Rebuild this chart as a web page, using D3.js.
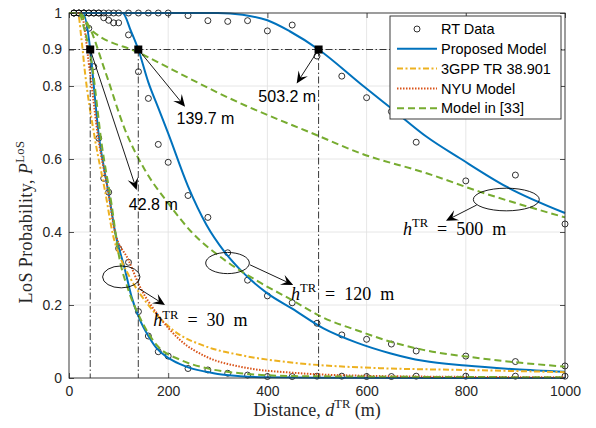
<!DOCTYPE html>
<html>
<head>
<meta charset="utf-8">
<script src="https://cdn.jsdelivr.net/npm/d3@7"></script>
<style>
	html, body { margin: 0; padding: 0; background: #fff; }
	svg { display: block; }
</style>
</head>
<body>
<svg id="chart" width="596" height="428"></svg>
<script>
// RT samples, distance in m
const rtDistance = [10, 20, 30, 40, 50, 60, 70, 80, 90, 100, 120, 140, 160, 180, 200, 240, 280, 320, 360, 400, 450, 500, 550, 600, 650, 700, 800, 900, 1000];
const rtH30 = [1, 1, 1, 0.958, 0.853, 0.657, 0.547, 0.509, null, 0.355, 0.317, 0.182, 0.115, 0.072, 0.06, 0.026, 0.022, 0.013, 0.008, 0.004, 0.004, 0.005, 0.005, 0.004, 0.004, 0.005, 0.005, 0.005, 0.005];
const rtH120 = [1, 1, 1, 1, 1, 1, 0.987, 0.98, 0.973, 0.973, 0.94, 0.839, 0.766, 0.64, 0.591, 0.5, 0.44, 0.343, 0.268, 0.225, 0.206, 0.15, 0.118, 0.106, 0.093, 0.074, 0.06, 0.045, 0.033];
const rtH500 = [1, 1, 1, 1, 1, 1, 1, 1, 1, 1, 1, 1, 1, 1, 1, 0.993, 0.979, 0.977, 0.979, 0.951, 0.967, 0.882, 0.827, 0.768, 0.73, 0.646, 0.54, 0.556, 0.422];

// model curves, [distance, probability]
const proposedH30 = [[0, 1], [28, 1], [42.8, 0.9], [50, 0.8], [60, 0.665], [70, 0.58], [80, 0.505], [93, 0.4], [113, 0.296], [126, 0.223], [143, 0.159], [160, 0.115], [177, 0.081], [200, 0.055], [224, 0.038], [250, 0.025], [277, 0.017], [300, 0.011], [345, 0.005], [400, 0.002], [500, 0.001], [1000, 0]];
const proposedH120 = [[0, 1], [108, 1], [125, 0.95], [139.7, 0.9], [160, 0.81], [180, 0.74], [200, 0.67], [240, 0.525], [277, 0.42], [314, 0.345], [350, 0.29], [400, 0.232], [450, 0.19], [513, 0.136], [580, 0.097], [647, 0.068], [714, 0.047], [800, 0.034], [900, 0.024], [1000, 0.017]];
const proposedH500 = [[0, 1], [300, 1], [350, 0.995], [400, 0.98], [445, 0.95], [503.2, 0.9], [587, 0.807], [654, 0.734], [721, 0.661], [788, 0.602], [882, 0.524], [1000, 0.452]];
const gpp = [[0, 1], [18, 1], [25, 0.93], [32, 0.84], [52, 0.657], [73, 0.51], [89, 0.39], [105, 0.325], [123, 0.275], [163, 0.195], [210, 0.131], [277, 0.086], [345, 0.063], [466, 0.04], [627, 0.027], [800, 0.022], [1000, 0.016]];
const nyu = [[0, 1], [24, 1], [42, 0.84], [59, 0.657], [79, 0.51], [92, 0.405], [120, 0.323], [143, 0.25], [177, 0.177], [224, 0.104], [277, 0.058], [345, 0.031], [466, 0.013], [600, 0.006], [800, 0.003], [1000, 0.002]];
const ref33H30 = [[0, 1], [20, 1], [30, 0.96], [46, 0.86], [66, 0.64], [86, 0.474], [100, 0.34], [120, 0.24], [143, 0.165], [177, 0.09], [224, 0.05], [277, 0.027], [345, 0.013], [466, 0.005], [1000, 0.002]];
const ref33H120 = [[0, 1], [20, 1], [39, 0.967], [73, 0.84], [113, 0.68], [153, 0.57], [200, 0.479], [247, 0.4], [314, 0.323], [382, 0.264], [449, 0.214], [513, 0.165], [580, 0.131], [647, 0.1], [714, 0.077], [829, 0.054], [1000, 0.031]];
const ref33H500 = [[0, 1], [20, 1], [40, 0.96], [143, 0.89], [345, 0.753], [500, 0.665], [587, 0.616], [721, 0.561], [829, 0.51], [1000, 0.44]];

const crossDistances = [42.8, 139.7, 503.2];
const crossLevel = 0.9;
const crossLabels = ['42.8 m', '139.7 m', '503.2 m'];
// arrow tip and label centre, in data units
const crossArrowTips = [[136.4, 0.515], [234, 0.743], [459, 0.807]];
const crossLabelPos = [[170, 0.477], [275, 0.712], [440, 0.771]];

const heightLabels = ['30', '120', '500'];
const ellipseCentres = [[105.4, 0.277], [319.6, 0.315], [881.7, 0.489]];
const ellipseRadii = [[37.7, 0.03], [44, 0.029], [66.5, 0.031]];
const heightArrowFrom = [[139.9, 0.246], [365, 0.31], [822, 0.474]];
const heightArrowTo = [[193.5, 0.2], [452, 0.255], [760, 0.431]];
const heightLabelPos = [[170, 0.142], [447.6, 0.214], [673.4, 0.392]];

const xTicks = [0, 200, 400, 600, 800, 1000];
const yTicks = [0, 0.2, 0.4, 0.6, 0.8, 0.9, 1];

const legendNames = ['RT Data', 'Proposed Model', '3GPP TR 38.901', 'NYU Model', 'Model in [33]'];

const BLUE = '#0072BD';
const ORANGE = '#EDB120';
const RED = '#D95319';
const GREEN = '#77AC30';
const AXIS = '#262626';
const DASH_GPP = '6,2.5,2,2.5';
const DASH_NYU = '1.5,1.5';
const DASH_REF = '7,4';
const SANS = '"Liberation Sans", Arial, Helvetica, sans-serif';
const SERIF = '"Liberation Serif", "Times New Roman", serif';

const $svg = d3.select('#chart');

const margin = { left: 69, right: 31, top: 13, bottom: 50 };
const width = 596;
const height = 428;

const x = d3.scaleLinear().domain([0, 1000]).range([margin.left, width - margin.right]);
const y = d3.scaleLinear().domain([0, 1]).range([height - margin.bottom, margin.top]);

const line = d3.line()
	.x(d => x(d[0]))
	.y(d => y(d[1]))
	.curve(d3.curveMonotoneX);

function drawGrid() {
	const $g = $svg.append('g').attr('class', 'grid');
	$g.selectAll('.gx')
		.data(xTicks.slice(1, -1))
		.join('line')
		.attr('x1', d => x(d)).attr('x2', d => x(d))
		.attr('y1', y(0)).attr('y2', y(1))
		.attr('stroke', '#dfdfdf').attr('stroke-width', 0.8);
	$g.selectAll('.gy')
		.data(yTicks.slice(1, -1))
		.join('line')
		.attr('x1', x(0)).attr('x2', x(1000))
		.attr('y1', d => y(d)).attr('y2', d => y(d))
		.attr('stroke', '#dfdfdf').attr('stroke-width', 0.8);
}

function styleAxis($a) {
	$a.select('.domain').remove();
	$a.selectAll('line').attr('stroke', AXIS).attr('stroke-width', 0.8);
	$a.selectAll('text').attr('fill', AXIS).style('font-family', SANS).style('font-size', '14px');
}

function drawAxes() {
	const fmt = d => String(d);
	const $b = $svg.append('g')
		.attr('transform', `translate(0,${y(0)})`)
		.call(d3.axisBottom(x).tickValues(xTicks).tickFormat(fmt).tickSizeInner(-5).tickSizeOuter(0).tickPadding(8));
	const $l = $svg.append('g')
		.attr('transform', `translate(${x(0)},0)`)
		.call(d3.axisLeft(y).tickValues(yTicks).tickFormat(fmt).tickSizeInner(-5).tickSizeOuter(0).tickPadding(7));
	const $t = $svg.append('g')
		.attr('transform', `translate(0,${y(1)})`)
		.call(d3.axisTop(x).tickValues(xTicks).tickFormat('').tickSizeInner(-5).tickSizeOuter(0));
	const $r = $svg.append('g')
		.attr('transform', `translate(${x(1000)},0)`)
		.call(d3.axisRight(y).tickValues(yTicks).tickFormat('').tickSizeInner(-5).tickSizeOuter(0));
	[$b, $l, $t, $r].forEach(styleAxis);

	$svg.append('rect')
		.attr('x', x(0)).attr('y', y(1))
		.attr('width', x(1000) - x(0)).attr('height', y(0) - y(1))
		.attr('fill', 'none').attr('stroke', AXIS).attr('stroke-width', 0.9);
}

// text with an upright superscript, e.g. d^TR
function texText($t, parts, size) {
	parts.forEach(p => {
		const $s = $t.append('tspan').text(p.text);
		if (p.italic) $s.attr('font-style', 'italic');
		if (p.sup) $s.attr('font-size', size * 0.7).attr('dy', -size * 0.42);
		if (p.after) $s.attr('dy', size * 0.42);
	});
}

function drawAxisLabels() {
	const $xl = $svg.append('text')
		.attr('x', (x(0) + x(1000)) / 2).attr('y', 416)
		.attr('text-anchor', 'middle')
		.attr('fill', AXIS)
		.style('font-family', SERIF).style('font-size', '18px');
	texText($xl, [
		{ text: 'Distance, ' },
		{ text: 'd', italic: true },
		{ text: 'TR', sup: true },
		{ text: ' (m)', after: true }
	], 18);

	const $yl = $svg.append('text')
		.attr('transform', 'translate(32,222) rotate(-90)')
		.attr('text-anchor', 'middle')
		.attr('fill', AXIS)
		.style('font-family', SERIF).style('font-size', '18px')
		.style('letter-spacing', '0.4px');
	texText($yl, [
		{ text: 'LoS Probability, ' },
		{ text: 'P', italic: true },
		{ text: 'LoS', sup: true }
	], 18);
}

function drawRT() {
	const series = [rtH30, rtH120, rtH500];
	const pts = [];
	series.forEach(s => s.forEach((p, i) => {
		if (p !== null) pts.push([rtDistance[i], p]);
	}));
	$svg.append('g').selectAll('circle')
		.data(pts)
		.join('circle')
		.attr('cx', d => x(d[0])).attr('cy', d => y(d[1]))
		.attr('r', 3)
		.attr('fill', 'none').attr('stroke', '#000').attr('stroke-width', 0.8);
}

function drawCurve(data, color, dash) {
	$svg.append('path')
		.datum(data)
		.attr('d', line)
		.attr('fill', 'none')
		.attr('stroke', color)
		.attr('stroke-width', 2)
		.attr('stroke-dasharray', dash);
}

function drawModels() {
	[proposedH30, proposedH120, proposedH500].forEach(d => drawCurve(d, BLUE, null));
	drawCurve(gpp, ORANGE, DASH_GPP);
	drawCurve(nyu, RED, DASH_NYU);
	[ref33H30, ref33H120, ref33H500].forEach(d => drawCurve(d, GREEN, DASH_REF));
}

function drawCrossings() {
	const $g = $svg.append('g');
	const dash = '7,2.5,1.5,2.5';
	$g.append('line')
		.attr('x1', x(0)).attr('x2', x(1000))
		.attr('y1', y(crossLevel)).attr('y2', y(crossLevel))
		.attr('stroke', '#222').attr('stroke-width', 0.9).attr('stroke-dasharray', dash);
	$g.selectAll('.v')
		.data(crossDistances)
		.join('line')
		.attr('x1', d => x(d)).attr('x2', d => x(d))
		.attr('y1', y(crossLevel)).attr('y2', y(0))
		.attr('stroke', '#222').attr('stroke-width', 0.9).attr('stroke-dasharray', dash);
	$g.selectAll('rect')
		.data(crossDistances)
		.join('rect')
		.attr('x', d => x(d) - 4).attr('y', y(crossLevel) - 4)
		.attr('width', 8).attr('height', 8)
		.attr('fill', '#000');
}

function arrow($g, from, to) {
	const x1 = x(from[0]), y1 = y(from[1]);
	const x2 = x(to[0]), y2 = y(to[1]);
	const len = Math.hypot(x2 - x1, y2 - y1);
	const ux = (x2 - x1) / len, uy = (y2 - y1) / len;
	const nx = -uy, ny = ux;
	const L = 12, W = 5.5;
	$g.append('line')
		.attr('x1', x1).attr('y1', y1)
		.attr('x2', x2 - ux * 6).attr('y2', y2 - uy * 6)
		.attr('stroke', '#000').attr('stroke-width', 0.9);
	const head = [
		[x2, y2],
		[x2 - ux * L + nx * W, y2 - uy * L + ny * W],
		[x2 - ux * L * 0.6, y2 - uy * L * 0.6],
		[x2 - ux * L - nx * W, y2 - uy * L - ny * W]
	];
	$g.append('path')
		.attr('d', 'M' + head.join('L') + 'Z')
		.attr('fill', '#000');
}

function drawAnnotations() {
	const $g = $svg.append('g');
	crossDistances.forEach((d, i) => {
		arrow($g, [d, crossLevel], crossArrowTips[i]);
		$g.append('text')
			.attr('x', x(crossLabelPos[i][0])).attr('y', y(crossLabelPos[i][1]))
			.attr('dy', '0.36em')
			.attr('text-anchor', 'middle')
			.attr('fill', '#000')
			.style('font-family', SANS).style('font-size', '16px')
			.text(crossLabels[i]);
	});

	heightLabels.forEach((h, i) => {
		const c = ellipseCentres[i];
		const r = ellipseRadii[i];
		$g.append('ellipse')
			.attr('cx', x(c[0])).attr('cy', y(c[1]))
			.attr('rx', x(c[0] + r[0]) - x(c[0]))
			.attr('ry', y(c[1]) - y(c[1] + r[1]))
			.attr('fill', 'none').attr('stroke', '#000').attr('stroke-width', 0.9);
		arrow($g, heightArrowFrom[i], heightArrowTo[i]);
		const $t = $g.append('text')
			.attr('x', x(heightLabelPos[i][0])).attr('y', y(heightLabelPos[i][1]))
			.attr('fill', '#000')
			.style('font-family', SERIF).style('font-size', '18px');
		texText($t, [
			{ text: 'h', italic: true },
			{ text: 'TR', sup: true },
			{ text: '\u2002=\u2002' + h + '\u2002m', after: true }
		], 18);
	});
}

function drawLegend() {
	const lx = 390, ly = 16, lw = 171, lh = 103;
	const $g = $svg.append('g');
	$g.append('rect')
		.attr('x', lx).attr('y', ly).attr('width', lw).attr('height', lh)
		.attr('fill', '#fff').attr('stroke', AXIS).attr('stroke-width', 0.9);
	const styles = [
		{ color: null },
		{ color: BLUE, dash: null },
		{ color: ORANGE, dash: DASH_GPP },
		{ color: RED, dash: DASH_NYU },
		{ color: GREEN, dash: DASH_REF }
	];
	legendNames.forEach((name, i) => {
		const cy = ly + 13 + i * 19.8;
		if (i === 0) {
			$g.append('circle')
				.attr('cx', lx + 27).attr('cy', cy).attr('r', 3)
				.attr('fill', 'none').attr('stroke', '#000').attr('stroke-width', 0.8);
		} else {
			$g.append('line')
				.attr('x1', lx + 7).attr('x2', lx + 47)
				.attr('y1', cy).attr('y2', cy)
				.attr('stroke', styles[i].color).attr('stroke-width', 2)
				.attr('stroke-dasharray', styles[i].dash);
		}
		$g.append('text')
			.attr('x', lx + 51).attr('y', cy)
			.attr('dy', '0.36em')
			.attr('fill', '#000')
			.style('font-family', SANS).style('font-size', '14.5px')
			.text(name);
	});
}

drawGrid();
drawRT();
drawModels();
drawCrossings();
drawAnnotations();
drawAxes();
drawAxisLabels();
drawLegend();
</script>
</body>
</html>
